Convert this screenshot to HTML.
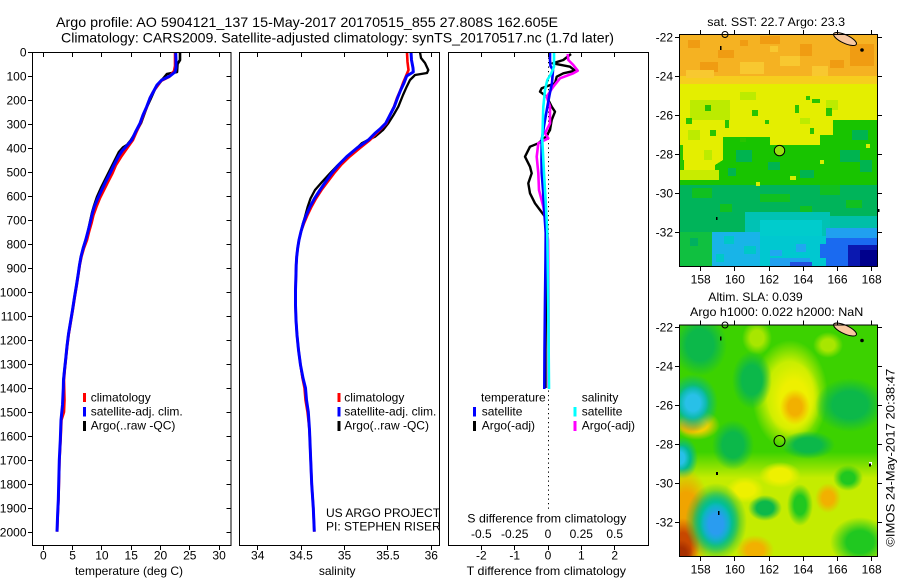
<!DOCTYPE html>
<html><head><meta charset="utf-8"><style>
html,body{margin:0;padding:0;background:#fff;}
svg{display:block;}
text{font-family:"Liberation Sans",Arial,sans-serif;font-size:12px;fill:#000;}
.t14{font-size:14px;}
</style></head><body>
<svg width="900" height="580" viewBox="0 0 900 580" xmlns="http://www.w3.org/2000/svg">
<defs>
<clipPath id="c1"><rect x="33" y="53" width="198" height="492"/></clipPath>
<clipPath id="c2"><rect x="240" y="53" width="199" height="492"/></clipPath>
<clipPath id="c3"><rect x="449" y="53" width="199" height="492"/></clipPath>
<clipPath id="cm1"><rect x="680" y="35" width="197" height="231"/></clipPath>
<clipPath id="cm2"><rect x="680" y="325.5" width="197" height="231"/></clipPath>
<linearGradient id="g2" gradientUnits="userSpaceOnUse" x1="0" y1="452" x2="0" y2="478">
<stop offset="0" stop-color="#3cd200"/><stop offset="1" stop-color="#c4ec00"/>
</linearGradient>
<radialGradient id="rYG"><stop offset="0.6" stop-color="#c8ee00"/><stop offset="1" stop-color="#c8ee00" stop-opacity="0"/></radialGradient>
<radialGradient id="rY"><stop offset="0.5" stop-color="#eef000"/><stop offset="1" stop-color="#eef000" stop-opacity="0"/></radialGradient>
<radialGradient id="rO"><stop offset="0.45" stop-color="#f2b000"/><stop offset="1" stop-color="#f2b000" stop-opacity="0"/></radialGradient>
<radialGradient id="rYO"><stop offset="0.45" stop-color="#f0d000"/><stop offset="1" stop-color="#f0d000" stop-opacity="0"/></radialGradient>
<radialGradient id="rLG"><stop offset="0.45" stop-color="#a8e600"/><stop offset="1" stop-color="#a8e600" stop-opacity="0"/></radialGradient>
<radialGradient id="rDG"><stop offset="0.5" stop-color="#0cb84a"/><stop offset="1" stop-color="#0cb84a" stop-opacity="0"/></radialGradient>
<radialGradient id="rMG"><stop offset="0.45" stop-color="#20c820"/><stop offset="1" stop-color="#20c820" stop-opacity="0"/></radialGradient>
<radialGradient id="rT"><stop offset="0.5" stop-color="#00b890"/><stop offset="1" stop-color="#00b890" stop-opacity="0"/></radialGradient>
<radialGradient id="rT2"><stop offset="0.5" stop-color="#00c0b0"/><stop offset="1" stop-color="#00c0b0" stop-opacity="0"/></radialGradient>
<radialGradient id="rC"><stop offset="0.45" stop-color="#28c0e8"/><stop offset="1" stop-color="#28c0e8" stop-opacity="0"/></radialGradient>
<radialGradient id="rB"><stop offset="0.45" stop-color="#2a9cf0"/><stop offset="1" stop-color="#2a9cf0" stop-opacity="0"/></radialGradient>
<radialGradient id="rOR"><stop offset="0.55" stop-color="#f0a400"/><stop offset="1" stop-color="#f0a400" stop-opacity="0"/></radialGradient>
<radialGradient id="rR"><stop offset="0.45" stop-color="#c84800"/><stop offset="1" stop-color="#c84800" stop-opacity="0"/></radialGradient>
<radialGradient id="rRR"><stop offset="0.45" stop-color="#a83000"/><stop offset="1" stop-color="#a83000" stop-opacity="0"/></radialGradient>
</defs>
<rect width="900" height="580" fill="#fff"/>

<!-- Titles -->
<text class="t14" x="56" y="27" textLength="502" lengthAdjust="spacingAndGlyphs">Argo profile: AO 5904121_137 15-May-2017 20170515_855 27.808S 162.605E</text>
<text class="t14" x="61" y="42.5" textLength="553" lengthAdjust="spacingAndGlyphs">Climatology: CARS2009. Satellite-adjusted climatology: synTS_20170517.nc (1.7d later)</text>

<!-- ============ PANEL 1 ============ -->
<g clip-path="url(#c1)" fill="none" stroke-linejoin="round">
<path stroke="#000" stroke-width="2.6" d="M180,52.3 L180,60 L177.5,64 L177,72 L167,74 L162,80 L155,89 L151,98 L147,106.7 L145,112 L141,123 L136,132 L131,140 L127,145 L123,147.5 L119,152 L115,160 L110,170 L106,178 L101,188 L97,197 L94,206 L92,213 L90,222 L88,232 L85.7,240 L83.2,248 L81,256.7 L79.5,265 L78.3,273.3 L76.5,285 L74.5,297 L72.5,310 L70.5,322 L68.5,334 L67,346 L65.8,358 L64.5,370 L63.5,380 L63.3,388"/>
<path stroke="#f00" stroke-width="2.6" d="M175,52.3 L175,66 L174,71 L169,77 L161,81 L156,88 L153,92 L150,98 L147,106.7 L143.5,115 L140.5,123.3 L136.5,132 L133,140 L128,147 L121,157 L116,165 L112.5,173.3 L108,182 L104,190 L100,198 L96.5,206.7 L93.5,215 L91.5,223.3 L89,232 L87,240 L84,248 L81.5,256.7 L79.8,265 L78.6,273.3 L76.8,285 L74.8,297 L72.8,310 L70.8,322 L68.8,334 L67.3,346 L66,358 L64.8,370 L64,380 L64.2,388 L64.5,400 L64,412 L61.5,420 L60.6,440 L59.5,460 L59,480 L58.5,500 L57.8,515 L57.2,531.7"/>
<path stroke="#00f" stroke-width="3" d="M175.7,52.3 L176,60 L176,68 L175,72 L170,76 L161.7,80 L157,85 L154.3,90 L150,98 L146.7,106.7 L143,115 L140,123.3 L135.5,132 L131.7,140 L126,146.7 L122,151 L118.3,156.7 L114,165 L110,173.3 L105.5,182 L101.7,190 L98,198 L94.3,206.7 L92,215 L90,223.3 L87.8,232 L85.7,240 L83.2,248 L81,256.7 L79.5,265 L78.3,273.3 L76.5,285 L74.5,297 L72.5,310 L70.5,322 L68.5,334 L67,346 L65.8,358 L64.5,370 L63.5,380 L63.3,388 L62.5,405 L61,420 L60.3,440 L59.3,460 L58.8,480 L58.3,500 L57.6,515 L57,531.7"/>
</g>
<rect x="32.5" y="52.5" width="198.5" height="493" fill="none" stroke="#000" stroke-width="1"/>
<g stroke="#000" stroke-width="1" shape-rendering="crispEdges">
<path d="M28,52.5H32.5M28,76.5H32.5M28,100.5H32.5M28,124.5H32.5M28,148.5H32.5M28,172.5H32.5M28,196.5H32.5M28,220.5H32.5M28,244.5H32.5M28,268.5H32.5M28,292.5H32.5M28,316.5H32.5M28,340.5H32.5M28,364.5H32.5M28,388.5H32.5M28,412.5H32.5M28,436.5H32.5M28,460.5H32.5M28,484.5H32.5M28,508.5H32.5M28,532.5H32.5"/>
<path d="M226.5,76.5H231M226.5,100.5H231M226.5,124.5H231M226.5,148.5H231M226.5,172.5H231M226.5,196.5H231M226.5,220.5H231M226.5,244.5H231M226.5,268.5H231M226.5,292.5H231M226.5,316.5H231M226.5,340.5H231M226.5,364.5H231M226.5,388.5H231M226.5,412.5H231M226.5,436.5H231M226.5,460.5H231M226.5,484.5H231M226.5,508.5H231M226.5,532.5H231"/>
<path d="M43.5,52.5V57M72.5,52.5V57M101.5,52.5V57M131.5,52.5V57M160.5,52.5V57M189.5,52.5V57M219.5,52.5V57"/>
<path d="M43.5,545.5V550M72.5,545.5V550M101.5,545.5V550M131.5,545.5V550M160.5,545.5V550M189.5,545.5V550M219.5,545.5V550"/>
</g>
<g text-anchor="end">
<text x="26.5" y="56.6">0</text><text x="26.5" y="80.6">100</text><text x="26.5" y="104.6">200</text><text x="26.5" y="128.6">300</text><text x="26.5" y="152.6">400</text><text x="26.5" y="176.6">500</text><text x="26.5" y="200.6">600</text><text x="26.5" y="224.6">700</text><text x="26.5" y="248.6">800</text><text x="26.5" y="272.6">900</text><text x="26.5" y="296.6">1000</text><text x="26.5" y="320.6">1100</text><text x="26.5" y="344.6">1200</text><text x="26.5" y="368.6">1300</text><text x="26.5" y="392.6">1400</text><text x="26.5" y="416.6">1500</text><text x="26.5" y="440.6">1600</text><text x="26.5" y="464.6">1700</text><text x="26.5" y="488.6">1800</text><text x="26.5" y="512.6">1900</text><text x="26.5" y="536.6">2000</text>
</g>
<g text-anchor="middle">
<text x="43.3" y="559.5">0</text><text x="72.6" y="559.5">5</text><text x="101.9" y="559.5">10</text><text x="131.2" y="559.5">15</text><text x="160.5" y="559.5">20</text><text x="189.8" y="559.5">25</text><text x="219.1" y="559.5">30</text>
<text x="129" y="575">temperature (deg C)</text>
</g>
<rect x="83" y="393" width="3" height="9" fill="#f00"/>
<rect x="83" y="407" width="3" height="9.5" fill="#00f"/>
<rect x="83" y="421" width="3" height="10" fill="#000"/>
<text x="90.7" y="401.5">climatology</text>
<text x="90.7" y="415.5">satellite-adj. clim.</text>
<text x="90.7" y="429.5">Argo(..raw -QC)</text>

<!-- ============ PANEL 2 ============ -->
<g clip-path="url(#c2)" fill="none" stroke-linejoin="round">
<path stroke="#000" stroke-width="2.3" d="M420,52.3 L421,58 L425,63 L428.3,70 L427,73 L415,75 L410,80 L406.7,86.7 L403,95 L398.3,106.7 L393.5,115 L388.3,123.3 L383,130 L375,136.7 L368,140 L361.7,143.3 L355,150 L349,155 L343.3,160 L336.5,166.5 L330,173.3 L322,182 L315,190 L310.5,198.5 L307.7,206.7 L305,216.7 L303,223.3 L301,231.5 L299,240 L297.7,248 L296.7,256.7 L296.2,265 L296,273.3 L295.5,290 L295.5,305 L296,320 L297,335 L298.5,350 L300.5,365 L302.5,378 L305,388"/>
<path stroke="#f00" stroke-width="2.6" d="M407,52.3 L407.5,62 L408.5,70 L406,76 L403,83 L400.5,90 L397,98 L394,106.7 L390,115 L386.5,123.3 L381,129 L376,134 L370,140 L360,148 L349.5,156.7 L341,165 L334,173.3 L327.5,182 L321.5,190 L316,198.5 L311.5,206.7 L307.5,215 L304,223.3 L301,231.5 L299,240 L297.7,248 L296.7,256.7 L296.2,265 L296,273.3 L295.5,290 L295.5,305 L296,320 L297,335 L298.5,350 L300.5,365 L302.5,378 L304.5,388 L305.5,400 L307.5,412 L309.5,430 L310.7,460 L311.7,484 L313.3,508 L314.3,531.7"/>
<path stroke="#00f" stroke-width="3" d="M411,52.3 L411.5,60 L413,68 L413.3,72 L410,74 L406.7,76 L404,83 L400.7,90 L397.5,98 L394.3,106.7 L390,115 L385.7,123.3 L380,129 L375,133.3 L368.3,140 L357,148 L346.7,156.7 L338.5,165 L331.7,173.3 L325.5,182 L320,190 L314.5,198.5 L310,206.7 L306.3,215 L303.3,223.3 L301,231.5 L299,240 L297.7,248 L296.7,256.7 L296.2,265 L296,273.3 L295.5,290 L295.5,305 L296,320 L297,335 L298.5,350 L300.5,365 L303,378 L305.5,388 L306.5,400 L308.3,412 L309.5,430 L310.7,460 L311.7,484 L313.3,508 L314.3,531.7"/>
</g>
<rect x="239.5" y="52.5" width="200" height="493" fill="none" stroke="#000" stroke-width="1"/>
<g stroke="#000" stroke-width="1" shape-rendering="crispEdges">
<path d="M257.5,52.5V57M301.5,52.5V57M344.5,52.5V57M387.5,52.5V57M431.5,52.5V57"/>
<path d="M257.5,545.5V550M301.5,545.5V550M344.5,545.5V550M387.5,545.5V550M431.5,545.5V550"/>
</g>
<g text-anchor="middle">
<text x="257.7" y="559.5">34</text><text x="301.1" y="559.5">34.5</text><text x="344.5" y="559.5">35</text><text x="387.9" y="559.5">35.5</text><text x="431.3" y="559.5">36</text>
<text x="337.2" y="575">salinity</text>
</g>
<rect x="337.5" y="393" width="3" height="9" fill="#f00"/>
<rect x="337.5" y="407" width="3" height="9.5" fill="#00f"/>
<rect x="337.5" y="421" width="3" height="10" fill="#000"/>
<text x="344.3" y="401.5">climatology</text>
<text x="344.3" y="415.5">satellite-adj. clim.</text>
<text x="344.3" y="429.5">Argo(..raw -QC)</text>
<text x="326" y="517">US ARGO PROJECT</text>
<text x="326" y="530.5">PI: STEPHEN RISER</text>

<!-- ============ PANEL 3 ============ -->
<line x1="548.5" y1="53" x2="548.5" y2="512" stroke="#000" stroke-width="1" stroke-dasharray="1.2 3.3"/>
<g clip-path="url(#c3)" fill="none" stroke-linejoin="round">
<path stroke="#000" stroke-width="2.4" d="M571,54 L563.3,60 L552.7,63.3 L570,66.7 L575,70.7 L563.3,73.3 L556.7,76.7 L555,83.3 L541.7,88.3 L540,91.7 L546.7,96.7 L551.7,106.7 L555,111.7 L551.7,120 L550,130 L546,136.7 L538.3,143.3 L530,146.7 L525,156.7 L530,166.7 L531.7,173.3 L528.3,183.3 L530,193.3 L535,203.3 L540,210 L545,216.7 L547,225 L546.5,260 L546,300 L545.5,350 L545.5,388"/>
<path stroke="#f0f" stroke-width="2.6" d="M567.7,54 L568.3,60 L573.3,65 L577.7,70.7 L573.3,73.3 L560,78.3 L553.3,86.7 L546.7,96.7 L550,106.7 L550,123.3 L545,133.3 L548.3,138.3 L538.3,143.3 L536.7,156.7 L538.3,173.3 L539,190 L543.3,206.7 L546,223.3 L548,240 L548.5,300 L548.5,388"/>
<path stroke="#00f" stroke-width="2.6" d="M550,52.3 L550,60 L550.5,66 L553,70 L552,83 L549.5,95 L547.3,107 L544.5,123 L541.7,140 L541.5,160 L541.7,173 L543,190 L544,207 L545.7,233 L545.5,260 L545,300 L544.5,350 L544.3,389"/>
<path stroke="#0ff" stroke-width="2.6" d="M554,52.3 L554,66.7 L551,74 L547.3,80 L545,90 L543.3,107 L542.3,140 L544,173 L546,207 L547.3,233 L548,280 L548.5,330 L549,389"/>
</g>
<rect x="448.5" y="52.5" width="200" height="493" fill="none" stroke="#000" stroke-width="1"/>
<g stroke="#000" stroke-width="1" shape-rendering="crispEdges">
<path d="M481.5,52.5V57M514.5,52.5V57M548.5,52.5V57M581.5,52.5V57M614.5,52.5V57"/>
<path d="M481.5,545.5V550M514.5,545.5V550M548.5,545.5V550M581.5,545.5V550M614.5,545.5V550"/>
</g>
<text x="481" y="401.5">temperature</text>
<text x="581.7" y="401.5">salinity</text>
<rect x="473" y="407" width="3" height="9.5" fill="#00f"/>
<rect x="473" y="421" width="3" height="10" fill="#000"/>
<rect x="573.5" y="407" width="3" height="9.5" fill="#0ff"/>
<rect x="573.5" y="421" width="3" height="10" fill="#f0f"/>
<text x="481.7" y="415.5">satellite</text>
<text x="481.7" y="429.5">Argo(-adj)</text>
<text x="581.7" y="415.5">satellite</text>
<text x="581.7" y="429.5">Argo(-adj)</text>
<text x="467.3" y="522.5" textLength="159" lengthAdjust="spacingAndGlyphs">S difference from climatology</text>
<g text-anchor="middle">
<text x="481.3" y="538">-0.5</text><text x="514.7" y="538">-0.25</text><text x="548" y="538">0</text><text x="581.3" y="538">0.25</text><text x="614.7" y="538">0.5</text>
<text x="481.3" y="559.5">-2</text><text x="514.7" y="559.5">-1</text><text x="548" y="559.5">0</text><text x="581.3" y="559.5">1</text><text x="614.7" y="559.5">2</text>
</g>
<text x="466.7" y="575" textLength="159.3" lengthAdjust="spacingAndGlyphs">T difference from climatology</text>

<!-- ============ MAP 1 (SST) ============ -->
<text x="707.3" y="26" textLength="137.7" lengthAdjust="spacingAndGlyphs">sat. SST: 22.7 Argo: 23.3</text>
<g clip-path="url(#cm1)" shape-rendering="crispEdges">
<rect x="679" y="34" width="200" height="234" fill="#00b45a"/>
<rect x="679" y="110" width="200" height="75" fill="#18c400"/>
<g fill="#00b450">
<rect x="736" y="150" width="16" height="12"/><rect x="768" y="162" width="12" height="8"/><rect x="840" y="150" width="20" height="12"/><rect x="800" y="170" width="14" height="8"/><rect x="728" y="168" width="8" height="8"/><rect x="852" y="130" width="16" height="10"/><rect x="860" y="160" width="12" height="12"/>
</g>
<g fill="#d8ee00">
<rect x="790" y="176" width="6" height="4"/><rect x="820" y="160" width="4" height="4"/><rect x="866" y="144" width="4" height="4"/><rect x="756" y="182" width="4" height="4"/>
</g>
<g fill="#10c020">
<rect x="692" y="188" width="20" height="10"/><rect x="760" y="194" width="30" height="8"/><rect x="820" y="185" width="20" height="10"/><rect x="846" y="200" width="16" height="8"/><rect x="720" y="204" width="12" height="8"/><rect x="800" y="206" width="12" height="6"/>
</g>
<rect x="745" y="212" width="85" height="25" fill="#00c2b4"/>
<rect x="760" y="220" width="62" height="17" fill="#00cccc"/>
<rect x="830" y="216" width="48" height="18" fill="#00bfa8"/>
<rect x="679" y="232" width="34" height="36" fill="#10c040"/>
<rect x="690" y="238" width="8" height="8" fill="#00b060"/>
<rect x="712" y="232" width="48" height="36" fill="#18b4e8"/>
<rect x="724" y="236" width="10" height="8" fill="#00c8c8"/><rect x="744" y="246" width="12" height="8" fill="#00c8c8"/><rect x="716" y="254" width="8" height="8" fill="#00c8c8"/>
<rect x="760" y="236" width="66" height="32" fill="#00c8d0"/>
<rect x="770" y="250" width="12" height="6" fill="#20a8f0"/><rect x="796" y="244" width="10" height="8" fill="#20a8f0"/>
<rect x="770" y="258" width="40" height="10" fill="#20a0f0"/>
<rect x="790" y="262" width="22" height="6" fill="#2050e0"/>
<rect x="826" y="228" width="52" height="40" fill="#1a6af0"/>
<rect x="826" y="228" width="52" height="10" fill="#20a0f0"/>
<rect x="820" y="244" width="10" height="14" fill="#1a6af0"/>
<rect x="848" y="245" width="30" height="23" fill="#0a18b0"/>
<rect x="860" y="250" width="18" height="18" fill="#00008c"/>
<polygon fill="#e4ee00" points="679,82 879,82 879,120 833,120 833,135 820,135 820,145 770,145 770,137 723,137 723,160 715,165 715,178 684,178 684,160 679,160"/>
<g fill="#bceb00">
<rect x="690" y="100" width="40" height="20"/><rect x="740" y="92" width="16" height="8"/><rect x="800" y="118" width="10" height="6"/><rect x="688" y="130" width="12" height="10"/><rect x="704" y="150" width="8" height="10"/><rect x="826" y="100" width="12" height="10"/>
</g>
<g fill="#28c400">
<rect x="705" y="105" width="6" height="6"/><rect x="752" y="110" width="6" height="6"/><rect x="795" y="105" width="4" height="8"/><rect x="806" y="96" width="4" height="4"/><rect x="812" y="99" width="8" height="4"/><rect x="826" y="108" width="6" height="8"/><rect x="686" y="118" width="6" height="6"/><rect x="710" y="130" width="6" height="6"/><rect x="725" y="120" width="4" height="8"/><rect x="765" y="120" width="4" height="4"/><rect x="740" y="138" width="6" height="4"/><rect x="810" y="128" width="4" height="6"/><rect x="679" y="145" width="4" height="30"/><rect x="695" y="170" width="6" height="6"/>
</g>
<rect x="679" y="170" width="40" height="10" fill="#c8ec00"/>
<rect x="679" y="34" width="200" height="46" fill="#f5b222"/>
<rect x="679" y="76" width="200" height="8" fill="#f6ce1e"/>
<g fill="#f09c12">
<rect x="688" y="40" width="12" height="8"/><rect x="718" y="50" width="16" height="8"/><rect x="760" y="36" width="20" height="8"/><rect x="800" y="44" width="12" height="12"/><rect x="850" y="44" width="24" height="22"/><rect x="700" y="62" width="18" height="10"/><rect x="830" y="60" width="14" height="8"/><rect x="740" y="40" width="8" height="6"/>
</g>
<g fill="#f8c830">
<rect x="740" y="62" width="24" height="12"/><rect x="780" y="56" width="20" height="10"/><rect x="686" y="70" width="28" height="8"/><rect x="812" y="66" width="16" height="10"/><rect x="770" y="46" width="8" height="6"/>
</g>
</g>
<ellipse cx="845" cy="39" rx="12.5" ry="4.2" transform="rotate(25 845 39)" fill="#f8c8a0" stroke="#000" stroke-width="1"/>
<circle cx="862" cy="50" r="1.8" fill="#000"/>
<circle cx="725" cy="34.5" r="3" fill="none" stroke="#000" stroke-width="1"/>
<rect x="720" y="46" width="1.5" height="4" fill="#000"/>
<rect x="716" y="217" width="1.5" height="3" fill="#000"/>
<rect x="878" y="209" width="1.5" height="3" fill="#000"/>
<circle cx="779.5" cy="150.6" r="5.2" fill="#98e010" stroke="#000" stroke-width="1"/>
<rect x="679.5" y="34.5" width="198" height="232" fill="none" stroke="#000" stroke-width="1"/>
<g stroke="#000" stroke-width="1" shape-rendering="crispEdges">
<path d="M675,37.5H679.5M675,76.5H679.5M675,115.5H679.5M675,154.5H679.5M675,193.5H679.5M675,232.5H679.5"/>
<path d="M877.5,37.5H882M877.5,76.5H882M877.5,115.5H882M877.5,154.5H882M877.5,193.5H882M877.5,232.5H882"/>
<path d="M700.5,30V34.5M734.5,30V34.5M769.5,30V34.5M803.5,30V34.5M837.5,30V34.5M871.5,30V34.5"/>
<path d="M700.5,266.5V271M734.5,266.5V271M769.5,266.5V271M803.5,266.5V271M837.5,266.5V271M871.5,266.5V271"/>
</g>
<g text-anchor="end">
<text x="673" y="41.6">-22</text><text x="673" y="80.6">-24</text><text x="673" y="119.6">-26</text><text x="673" y="158.6">-28</text><text x="673" y="197.6">-30</text><text x="673" y="236.6">-32</text>
</g>
<g text-anchor="middle">
<text x="700.7" y="283.6">158</text><text x="734.9" y="283.6">160</text><text x="769.1" y="283.6">162</text><text x="803.3" y="283.6">164</text><text x="837.5" y="283.6">166</text><text x="871.7" y="283.6">168</text>
</g>

<!-- ============ MAP 2 (SLA) ============ -->
<text x="708.3" y="301" textLength="94.4" lengthAdjust="spacingAndGlyphs">Altim. SLA: 0.039</text>
<text x="690" y="316" textLength="173.3" lengthAdjust="spacingAndGlyphs">Argo h1000: 0.022 h2000: NaN</text>
<g clip-path="url(#cm2)">
<rect x="679" y="324" width="200" height="234" fill="url(#g2)"/>
<ellipse cx="790" cy="395" rx="38" ry="55" fill="url(#rYG)"/>
<ellipse cx="794" cy="400" rx="27" ry="38" fill="url(#rY)"/>
<ellipse cx="795" cy="407" rx="15" ry="18" fill="url(#rO)"/>
<ellipse cx="757" cy="338" rx="15" ry="17" fill="url(#rLG)"/>
<ellipse cx="828" cy="345" rx="15" ry="13" fill="url(#rLG)"/>
<ellipse cx="700" cy="345" rx="27" ry="31" fill="url(#rDG)"/>
<ellipse cx="752" cy="380" rx="20" ry="29" fill="url(#rDG)"/>
<ellipse cx="733" cy="445" rx="21" ry="25" fill="url(#rDG)"/>
<ellipse cx="850" cy="405" rx="35" ry="27" fill="url(#rDG)"/>
<ellipse cx="808" cy="445" rx="27" ry="14" fill="url(#rDG)"/>
<ellipse cx="765" cy="508" rx="17" ry="13" fill="url(#rDG)"/>
<ellipse cx="800" cy="505" rx="13" ry="21" fill="url(#rMG)"/>
<ellipse cx="860" cy="542" rx="30" ry="25" fill="url(#rMG)"/>
<ellipse cx="848" cy="478" rx="15" ry="13" fill="url(#rMG)"/>
<ellipse cx="745" cy="490" rx="19" ry="13" fill="url(#rY)"/>
<ellipse cx="780" cy="475" rx="21" ry="13" fill="url(#rY)"/>
<ellipse cx="828" cy="498" rx="13" ry="15" fill="url(#rO)"/>
<ellipse cx="755" cy="550" rx="19" ry="15" fill="url(#rO)"/>
<ellipse cx="697" cy="425" rx="23" ry="15" fill="url(#rYO)"/>
<ellipse cx="690" cy="425" rx="13" ry="10" fill="url(#rO)"/>
<ellipse cx="693" cy="403" rx="25" ry="29" fill="url(#rT)"/>
<ellipse cx="693" cy="403" rx="16" ry="18" fill="url(#rC)"/>
<ellipse cx="683" cy="458" rx="15" ry="21" fill="url(#rT)"/>
<ellipse cx="680" cy="458" rx="10" ry="13" fill="url(#rC)"/>
<ellipse cx="686" cy="522" rx="26" ry="54" fill="url(#rOR)"/>
<ellipse cx="683" cy="545" rx="17" ry="27" fill="url(#rR)"/>
<ellipse cx="681" cy="554" rx="12" ry="14" fill="url(#rRR)"/>
<ellipse cx="716" cy="522" rx="31" ry="39" fill="url(#rDG)"/>
<ellipse cx="716" cy="522" rx="24" ry="32" fill="url(#rT2)"/>
<ellipse cx="716" cy="524" rx="16" ry="22" fill="url(#rB)"/>
</g>
<ellipse cx="845" cy="329.5" rx="12.5" ry="4.2" transform="rotate(25 845 329.5)" fill="#f8c8a0" stroke="#000" stroke-width="1"/>
<circle cx="862" cy="340.5" r="1.8" fill="#000"/>
<circle cx="725" cy="325" r="3" fill="none" stroke="#000" stroke-width="1"/>
<rect x="720" y="336.5" width="1.5" height="4" fill="#000"/>
<rect x="716" y="472" width="2" height="3" fill="#000"/>
<rect x="718" y="511" width="1.5" height="4" fill="#000"/>
<rect x="869" y="462" width="3" height="3" fill="#fff"/>
<rect x="869" y="463.5" width="2" height="3" fill="#000"/>
<circle cx="779.5" cy="441" r="5.5" fill="none" stroke="#000" stroke-width="1"/>
<rect x="679.5" y="325" width="198" height="231.5" fill="none" stroke="#000" stroke-width="1"/>
<g stroke="#000" stroke-width="1" shape-rendering="crispEdges">
<path d="M675,327.5H679.5M675,366.5H679.5M675,405.5H679.5M675,444.5H679.5M675,483.5H679.5M675,522.5H679.5"/>
<path d="M877.5,327.5H882M877.5,366.5H882M877.5,405.5H882M877.5,444.5H882M877.5,483.5H882M877.5,522.5H882"/>
<path d="M700.5,320.5V325M734.5,320.5V325M769.5,320.5V325M803.5,320.5V325M837.5,320.5V325M871.5,320.5V325"/>
<path d="M700.5,556.5V561M734.5,556.5V561M769.5,556.5V561M803.5,556.5V561M837.5,556.5V561M871.5,556.5V561"/>
</g>
<g text-anchor="end">
<text x="673" y="331.6">-22</text><text x="673" y="370.6">-24</text><text x="673" y="409.6">-26</text><text x="673" y="448.6">-28</text><text x="673" y="487.6">-30</text><text x="673" y="526.6">-32</text>
</g>
<g text-anchor="middle">
<text x="700.7" y="573.6">158</text><text x="734.9" y="573.6">160</text><text x="769.1" y="573.6">162</text><text x="803.3" y="573.6">164</text><text x="837.5" y="573.6">166</text><text x="871.7" y="573.6">168</text>
</g>
<text transform="translate(894.3,546.7) rotate(-90)" x="0" y="0" textLength="178" lengthAdjust="spacingAndGlyphs">©IMOS 24-May-2017 20:38:47</text>
</svg>
</body></html>
